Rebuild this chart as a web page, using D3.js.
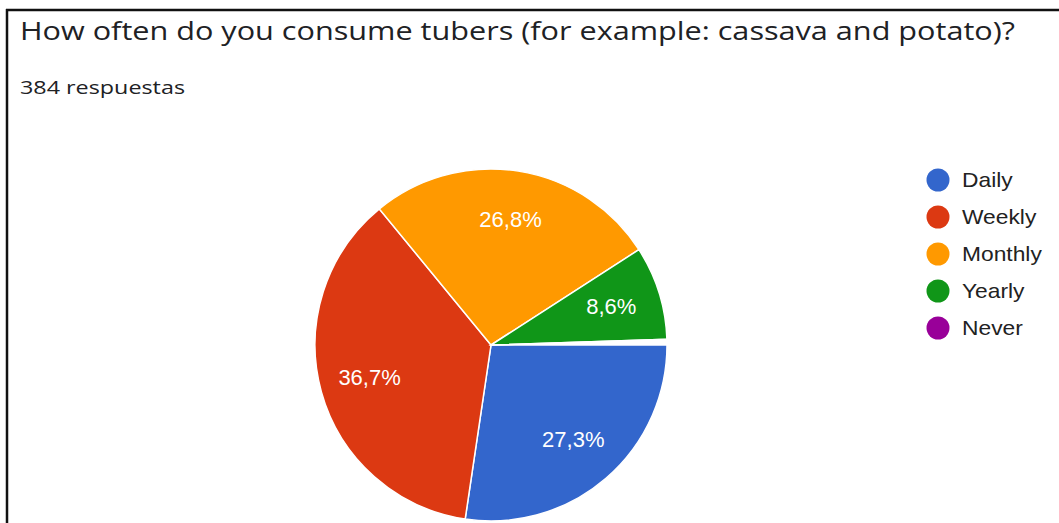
<!DOCTYPE html>
<head>
  <meta charset="utf-8">
  <title>How often do you consume tubers</title>
  <script src="https://d3js.org/d3.v7.min.js"></script>
  <style>
    body { margin: 0; background: #fff; }
    svg { display: block; }
    .title { font-family: "Open Sans", Roboto, Arial, sans-serif; fill: #202124; }
    .label { font-family: Arial, "Liberation Sans", sans-serif; fill: #fff; }
    .legend text { font-family: Arial, "Liberation Sans", sans-serif; fill: #222; }
  </style>
</head>
<body>
  <svg width="1059" height="523"></svg>
  <script>
  // data
  var categories = ["Daily", "Weekly", "Monthly", "Yearly", "Never"];
  var counts = [105, 141, 103, 33, 0];
  var labels = ["27,3%", "36,7%", "26,8%", "8,6%", ""];
  var colors = ["#3366cc", "#dc3912", "#ff9900", "#109618", "#990099"];
  var totalResponses = 384;

  var svg = d3.select("svg");

  // frame lines
  svg.append("line").attr("x1", 7).attr("x2", 7).attr("y1", 9).attr("y2", 523)
    .attr("stroke", "#111").attr("stroke-width", 2.5);
  svg.append("line").attr("x1", 6).attr("x2", 1059).attr("y1", 10).attr("y2", 10)
    .attr("stroke", "#111").attr("stroke-width", 2.5);

  svg.append("text").attr("class", "title")
    .attr("x", 20).attr("y", 40)
    .style("font-size", "25px")
    .attr("textLength", 995)
    .attr("lengthAdjust", "spacingAndGlyphs")
    .text("How often do you consume tubers (for example: cassava and potato)?");

  svg.append("text").attr("class", "title")
    .attr("x", 20).attr("y", 94)
    .style("font-size", "19px")
    .attr("textLength", 165)
    .attr("lengthAdjust", "spacingAndGlyphs")
    .text(totalResponses + " respuestas");

  // pie
  var cx = 491, cy = 345, r = 176;
  var sum = d3.sum(counts);
  var angle = d3.scaleLinear().domain([0, totalResponses]).range([0, 2 * Math.PI]);

  var pie = d3.pie().sort(null)
    .startAngle(Math.PI / 2)
    .endAngle(Math.PI / 2 + angle(sum));

  var arc = d3.arc().innerRadius(0).outerRadius(r);
  var labelArc = d3.arc().innerRadius(126).outerRadius(126);

  var g = svg.append("g").attr("transform", "translate(" + cx + "," + cy + ")");
  var arcs = pie(counts);

  g.selectAll("path").data(arcs).enter().append("path")
    .attr("d", arc)
    .attr("fill", function(d, i) { return colors[i]; })
    .attr("stroke", "#fff")
    .attr("stroke-width", 1.5);

  g.selectAll("text").data(arcs).enter().append("text")
    .attr("class", "label")
    .attr("transform", function(d) { return "translate(" + labelArc.centroid(d) + ")"; })
    .attr("text-anchor", "middle")
    .attr("dy", "0.3em")
    .style("font-size", "22px")
    .text(function(d, i) { return labels[i]; });

  // legend
  var legend = svg.append("g").attr("class", "legend");
  var item = legend.selectAll("g").data(categories).enter().append("g")
    .attr("transform", function(d, i) { return "translate(938," + (180 + i * 37) + ")"; });
  item.append("circle").attr("r", 11.5).attr("fill", function(d, i) { return colors[i]; });
  item.append("text").attr("dy", "0.36em")
    .attr("transform", "translate(24,0) scale(1.14,1)")
    .style("font-size", "20px")
    .text(function(d) { return d; });
  </script>
</body>
